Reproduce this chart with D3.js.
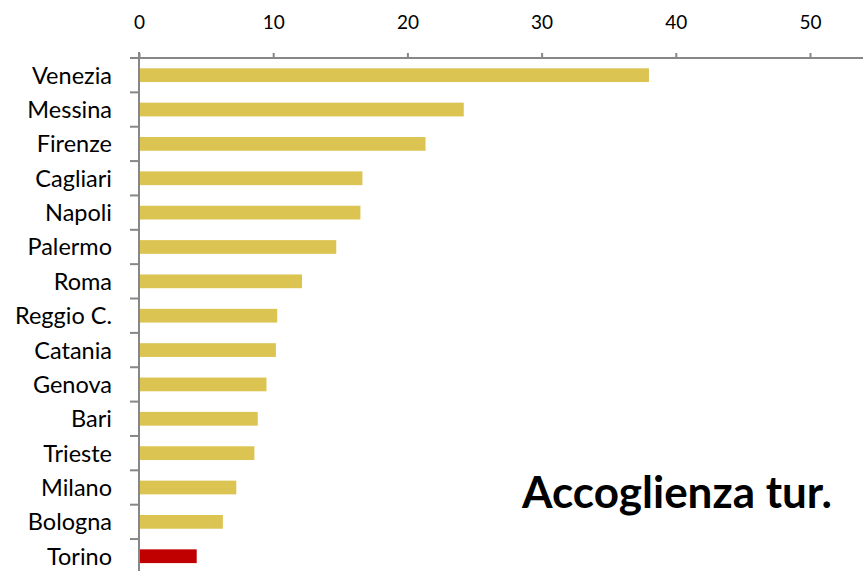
<!DOCTYPE html>
<html>
<head>
<meta charset="utf-8">
<script src="https://cdn.jsdelivr.net/npm/d3@7"></script>
<style>
  html, body { margin: 0; padding: 0; background: #fff; }
  svg { display: block; }
  text { font-family: Lato, "Open Sans", sans-serif; fill: #000; }
</style>
</head>
<body>
<svg id="chart" width="863" height="571"></svg>
<script>
const categories = ["Venezia","Messina","Firenze","Cagliari","Napoli","Palermo","Roma","Reggio C.","Catania","Genova","Bari","Trieste","Milano","Bologna","Torino"];
const values = [38.0, 24.2, 21.35, 16.65, 16.5, 14.7, 12.15, 10.3, 10.2, 9.5, 8.85, 8.6, 7.25, 6.25, 4.3];
const highlight = ["Torino"];
const xTicks = [0, 10, 20, 30, 40, 50];
const title = "Accoglienza tur.";

const svg = d3.select("#chart");
const W = 863, H = 571;
const x0 = 139, xTop = 58;
const bandH = 34.36;

const x = d3.scaleLinear().domain([0, 54]).range([x0, x0 + 54 * 13.42]);
const y = d3.scaleBand().domain(categories)
  .range([xTop, xTop + bandH * categories.length])
  .paddingInner(0.6).paddingOuter(0.3);

const axisColor = "#878787";

// bars
svg.append("g").selectAll("rect")
  .data(categories)
  .join("rect")
  .attr("x", x(0) + 1)
  .attr("y", d => y(d))
  .attr("width", (d, i) => x(values[i]) - x(0) - 1)
  .attr("height", y.bandwidth())
  .attr("fill", d => highlight.includes(d) ? "#C00000" : "#DCC453");

// top x axis
const xAxis = d3.axisTop(x).tickValues(xTicks).tickSize(5).tickPadding(24).tickFormat(d3.format("d"));
const gx = svg.append("g").attr("transform", `translate(0,${xTop})`).call(xAxis);
gx.select(".domain").attr("stroke", axisColor).attr("stroke-width", 2).attr("d", `M${x0},0H${W}`);
gx.selectAll(".tick line").attr("stroke", axisColor).attr("stroke-width", 2);
gx.selectAll(".tick text").style("font-size", "19px").style("font-family", "Lato, 'Open Sans', sans-serif").attr("fill", "#000");

// left y axis line + ticks between categories
const gy = svg.append("g");
gy.append("line")
  .attr("x1", x0).attr("x2", x0)
  .attr("y1", xTop - 6).attr("y2", H)
  .attr("stroke", axisColor).attr("stroke-width", 2);
const boundaries = d3.range(categories.length + 1).map(i => y.range()[0] + i * y.step());
gy.selectAll("line.tk").data(boundaries).join("line")
  .attr("class", "tk")
  .attr("x1", x0 - 9).attr("x2", x0)
  .attr("y1", d => d).attr("y2", d => d)
  .attr("stroke", axisColor).attr("stroke-width", 2);

// category labels
svg.append("g").selectAll("text")
  .data(categories)
  .join("text")
  .attr("x", 112)
  .attr("y", d => y(d) + y.bandwidth() / 2)
  .attr("dy", "0.36em")
  .attr("text-anchor", "end")
  .style("font-size", "23.5px")
  .text(d => d);

// title
svg.append("text")
  .attr("x", 832)
  .attr("y", 508)
  .attr("text-anchor", "end")
  .style("font-size", "44px")
  .style("font-weight", "bold")
  .text(title);
</script>
</body>
</html>
